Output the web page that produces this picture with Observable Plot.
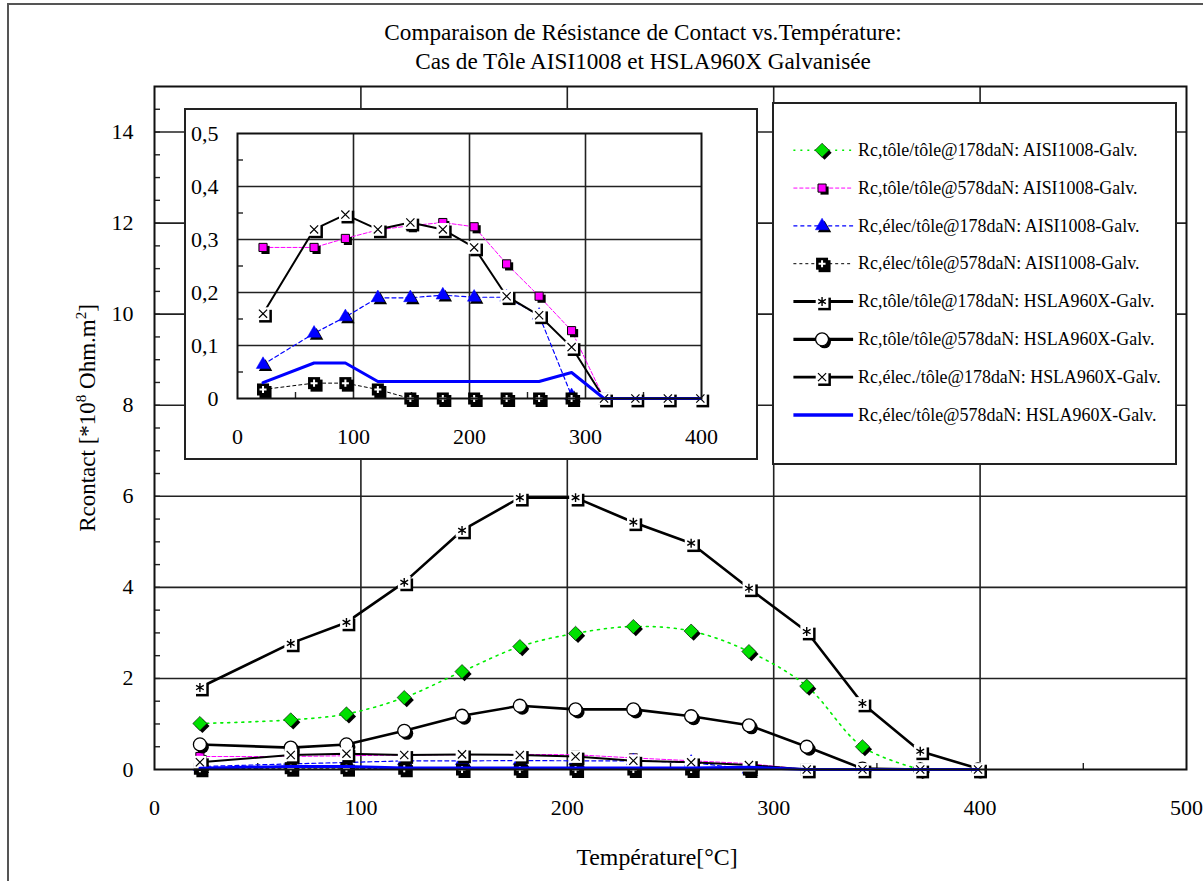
<!DOCTYPE html>
<html><head><meta charset="utf-8">
<script src="https://cdn.jsdelivr.net/npm/d3@7"></script>
<script src="https://cdn.jsdelivr.net/npm/@observablehq/plot@0.6"></script>
<style>
body{margin:0;background:#fff;font-family:"Liberation Serif",serif;color:#000;}
#wrap{position:relative;width:1203px;height:881px;overflow:hidden;background:#fff;}
#border{position:absolute;left:7px;top:3px;width:1200px;height:890px;border-left:2px solid #555;border-top:2px solid #555;}
#main{position:absolute;left:0;top:0;}
#title{position:absolute;left:643px;top:18px;transform:translateX(-50%);white-space:nowrap;text-align:center;font-size:23.2px;line-height:29px;}
#inset{position:absolute;left:184px;top:108px;width:570px;height:348px;background:#fff;border:2px solid #222;}
#legend{position:absolute;left:772px;top:102px;width:401px;height:359px;background:#fff;border:2px solid #222;}
#inset svg,#legend svg{position:absolute;left:-1px;top:-1px;}
#ylab{position:absolute;left:88px;top:418px;transform:translate(-50%,-50%) rotate(-90deg);white-space:nowrap;font-size:23px;}
#ylab sup{font-size:15px;vertical-align:0;position:relative;top:-9px;}
#xlab{position:absolute;left:657px;top:857px;transform:translate(-50%,-50%);white-space:nowrap;font-size:23.8px;}
</style></head><body>
<div id="wrap">
  <div id="border"></div>
  <div id="main"></div>
  <div id="title">Comparaison de Résistance de Contact vs.Température:<br>Cas de Tôle AISI1008 et HSLA960X Galvanisée</div>
  <div id="inset"></div>
  <div id="legend"></div>
  <div id="ylab">Rcontact [*10<sup>8</sup> Ohm.m<sup>2</sup>]</div>
  <div id="xlab">Température[°C]</div>
</div>
<script>
// ---- data ----
const temperatures = [22, 66, 93, 121, 149, 177, 204, 232, 260, 288, 316, 343, 371, 399];
const aisiTole178 = [1.01, 1.09, 1.22, 1.58, 2.15, 2.70, 2.99, 3.14, 3.04, 2.59, 1.83, 0.50, 0.00];
const aisiTole578 = [0.285, 0.285, 0.302, 0.318, 0.326, 0.332, 0.324, 0.254, 0.193, 0.128, 0.000];
const aisiElec178 = [0.064, 0.123, 0.154, 0.190, 0.190, 0.195, 0.191, 0.191, 0.157, 0.005];
const aisiElec578 = [0.017, 0.029, 0.029, 0.017, 0, 0, 0, 0, 0, 0, 0];
const hslaTole178 = [1.80, 2.77, 3.23, 4.11, 5.25, 5.97, 5.97, 5.43, 4.97, 3.98, 3.03, 1.45, 0.40, 0.02];
const hslaTole578 = [0.55, 0.48, 0.55, 0.85, 1.18, 1.40, 1.32, 1.32, 1.17, 0.97, 0.50, 0.02, 0, 0];
const hslaElec178 = [0.16, 0.319, 0.347, 0.319, 0.332, 0.319, 0.285, 0.193, 0.157, 0.097, 0, 0, 0, 0];
const hslaElec578 = [0.030, 0.067, 0.067, 0.032, 0.032, 0.032, 0.032, 0.032, 0.032, 0.049, 0, 0, 0, 0];
const seriesLabels = [
  "Rc,tôle/tôle@178daN: AISI1008-Galv.",
  "Rc,tôle/tôle@578daN: AISI1008-Galv.",
  "Rc,élec/tôle@178daN: AISI1008-Galv.",
  "Rc,élec/tôle@578daN: AISI1008-Galv.",
  "Rc,tôle/tôle@178daN: HSLA960X-Galv.",
  "Rc,tôle/tôle@578daN: HSLA960X-Galv.",
  "Rc,élec./tôle@178daN: HSLA960X-Galv.",
  "Rc,élec/tôle@578daN: HSLA960X-Galv."
];
const xTicks = [0, 100, 200, 300, 400, 500];
const xGrid = [100, 200, 300, 400];
const xMinor = [50, 150, 250, 350, 450];
const yTicks = [0, 2, 4, 6, 8, 10, 12, 14];
const yMinor = d3.range(0.5, 15, 0.5);
const insetXTicks = [0, 100, 200, 300, 400];
const insetXGrid = [100, 200, 300];
const insetXMinor = [50, 150, 250, 350];
const insetYTicks = [0, 0.1, 0.2, 0.3, 0.4, 0.5];
const insetYMinor = [0.05, 0.15, 0.25, 0.35, 0.45];

// ---- styles ----
const series = [
  {values: aisiTole178, color: "#00ee00", width: 1.6, dash: "2,5", curve: "catmull-rom", base: "diamond2", r: 6.4, fill: "#00e000", mstroke: "#000", msw: 0.6, inset: false},
  {values: aisiTole578, color: "#ff00ff", width: 1, dash: "4,2", base: "square", r: 4.6, fill: "#ff00ff", mstroke: "#000", msw: 1, inset: true},
  {values: aisiElec178, color: "#0000ff", width: 1.2, dash: "4,3", base: "triangle", r: 5, fill: "#0000ff", mstroke: "#0000ff", msw: 0.5, inset: true},
  {values: aisiElec578, color: "#000", width: 1, dash: "3,3", base: "square", r: 6.8, fill: "#000", glyph: "plus", gr: 2.4, gcolor: "#fff", gw: 2, inset: true},
  {values: hslaTole178, color: "#000", width: 2.6, base: "square", r: 7.2, fill: "#fff", glyph: "asterisk", gr: 4.2, gcolor: "#000", gw: 1.4, inset: false},
  {values: hslaTole578, color: "#000", width: 2.6, base: "circle", r: 6.5, fill: "#fff", mstroke: "#000", msw: 1.3, inset: false},
  {values: hslaElec178, color: "#000", width: 2, base: "square", r: 7.2, fill: "#fff", glyph: "times", gr: 3.8, gcolor: "#000", gw: 1.2, inset: true},
  {values: hslaElec578, color: "#0000ff", width: 3, inset: true}
];
series.forEach((s, i) => { s.label = seriesLabels[i]; s.rows = s.values.map((v, j) => ({x: temperatures[j], y: v})); });

const FONT = "Liberation Serif";

function markerMarks(s, data, x, y) {
  const m = [];
  if (!s.base) return m;
  m.push(Plot.dot(data, {x, y, symbol: s.base, r: s.r, fill: "#000", dx: 2.5, dy: 2.5}));
  m.push(Plot.dot(data, {x, y, symbol: s.base, r: s.r, fill: s.fill, stroke: s.mstroke || "none", strokeWidth: s.msw || 0}));
  if (s.glyph) m.push(Plot.dot(data, {x, y, symbol: s.glyph, r: s.gr, stroke: s.gcolor, strokeWidth: s.gw}));
  return m;
}
function seriesMarks(s) {
  return [
    Plot.line(s.rows, {x: "x", y: "y", stroke: s.color, strokeWidth: s.width, strokeDasharray: s.dash || null, curve: s.curve || "linear"}),
    ...markerMarks(s, s.rows, "x", "y")
  ];
}
const order = [0, 1, 2, 3, 4, 5, 6, 7];

// ---- main chart ----
const mainPlot = Plot.plot({
  width: 1203, height: 881,
  marginLeft: 154, marginRight: 17, marginTop: 86, marginBottom: 112,
  style: {fontFamily: FONT, fontSize: "22px", background: "transparent", color: "#000"},
  x: {domain: [0, 500]},
  y: {domain: [0, 15]},
  marks: [
    Plot.gridX(xGrid, {stroke: "#222", strokeOpacity: 1, strokeWidth: 1.6}),
    Plot.gridY(yTicks.filter(d => d > 0), {stroke: "#222", strokeOpacity: 1, strokeWidth: 1.6}),
    Plot.axisY(yMinor, {tickSize: -6, tickFormat: () => "", stroke: "#222", strokeWidth: 1.4, label: null}),
    Plot.axisX(xMinor, {tickSize: -6, tickFormat: () => "", stroke: "#222", strokeWidth: 1.4, label: null}),
    Plot.axisY(yTicks, {tickSize: 0, tickPadding: 21, label: null, fontSize: 22}),
    Plot.axisX(xTicks, {tickSize: 0, tickPadding: 30, label: null, fontSize: 22}),
    ...order.flatMap(i => seriesMarks(series[i])),
    Plot.frame({stroke: "#111", strokeWidth: 2})
  ]
});
document.getElementById("main").append(mainPlot);

// ---- inset ----
const insetSeries = series.filter(s => s.inset);
const insetPlot = Plot.plot({
  width: 570, height: 348,
  marginLeft: 52, marginRight: 54, marginTop: 24, marginBottom: 59,
  style: {fontFamily: FONT, fontSize: "22px", background: "transparent", color: "#000"},
  x: {domain: [0, 400]},
  y: {domain: [0, 0.5]},
  marks: [
    Plot.gridX(insetXGrid, {stroke: "#222", strokeOpacity: 1, strokeWidth: 1.6}),
    Plot.gridY(insetYTicks.filter(d => d > 0 && d < 0.5), {stroke: "#222", strokeOpacity: 1, strokeWidth: 1.6}),
    Plot.axisY(insetYMinor, {tickSize: -6, tickFormat: () => "", stroke: "#222", strokeWidth: 1.4, label: null}),
    Plot.axisX(insetXMinor, {tickSize: -6, tickFormat: () => "", stroke: "#222", strokeWidth: 1.4, label: null}),
    Plot.axisY(insetYTicks, {tickSize: 0, tickPadding: 19, label: null, fontSize: 22, tickFormat: d => d === 0 ? "0" : d.toFixed(1).replace(".", ",")}),
    Plot.axisX(insetXTicks, {tickSize: 0, tickPadding: 30, label: null, fontSize: 22}),
    ...insetSeries.flatMap(s => seriesMarks(s)),
    Plot.frame({stroke: "#111", strokeWidth: 2})
  ]
});
document.getElementById("inset").append(insetPlot);

// ---- legend ----
const legendMarks = [];
series.forEach(s => {
  const row = [{label: s.label}];
  legendMarks.push(Plot.link(row, {x1: () => 0, x2: () => 1, y1: "label", y2: "label", stroke: s.color, strokeWidth: s.width + (s.width >= 2 ? 0.6 : 0), strokeDasharray: s.dash || null}));
  legendMarks.push(...markerMarks(s, row, () => 0.48, "label"));
});
legendMarks.push(Plot.text(series, {x: () => 1, y: "label", text: "label", textAnchor: "start", dx: 5, fontSize: 18, fill: "#000"}));
const legendPlot = Plot.plot({
  width: 403, height: 361,
  style: {fontFamily: FONT, fontSize: "18px", background: "transparent", color: "#000"},
  x: {domain: [0, 1], range: [20, 80], axis: null},
  y: {type: "point", domain: seriesLabels, range: [25, 335], axis: null},
  marks: legendMarks
});
document.getElementById("legend").append(legendPlot);
</script>
</body></html>
